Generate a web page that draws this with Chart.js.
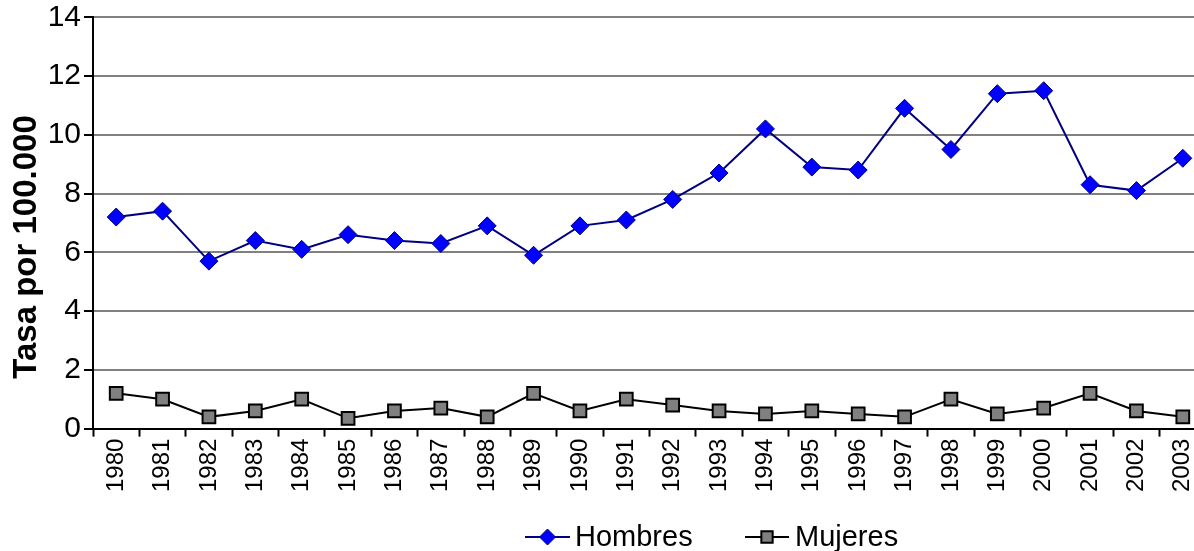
<!DOCTYPE html>
<html>
<head>
<meta charset="utf-8">
<script src="https://cdn.jsdelivr.net/npm/chart.js@4.4.1/dist/chart.umd.min.js"></script>
<style>
  html, body { margin: 0; padding: 0; background: #fff; overflow: hidden; }
  #wrap { width: 1217px; height: 551px; }
</style>
</head>
<body>
<div id="wrap"><canvas id="chart"></canvas></div>
<script>
/* --------------- Data --------------------- */
const years = ["1980", "1981", "1982", "1983", "1984", "1985", "1986", "1987", "1988", "1989",
    "1990", "1991", "1992", "1993", "1994", "1995", "1996", "1997", "1998", "1999",
    "2000", "2001", "2002", "2003"];
const hombres = [7.2, 7.4, 5.7, 6.4, 6.1, 6.6, 6.4, 6.3, 6.9, 5.9,
    6.9, 7.1, 7.8, 8.7, 10.2, 8.9, 8.8, 10.9, 9.5, 11.4,
    11.5, 8.3, 8.1, 9.2];
const mujeres = [1.2, 1.0, 0.4, 0.6, 1.0, 0.35, 0.6, 0.7, 0.4, 1.2,
    0.6, 1.0, 0.8, 0.6, 0.5, 0.6, 0.5, 0.4, 1.0, 0.5,
    0.7, 1.2, 0.6, 0.4];
const yTicks = [0, 2, 4, 6, 8, 10, 12, 14];
const yTitle = "Tasa por 100.000";

const fontFamily = "'Liberation Sans', Arial, sans-serif";

/* --------------- Axis title + legend drawn like the spreadsheet ones --------------------- */
const sheetDecor = {
    id: "sheetDecor",
    afterDraw(chart) {
        const ctx = chart.ctx;

        // y axis title, sits a bit below the plot centre as in the original
        ctx.save();
        ctx.translate(27, 247);
        ctx.rotate(-Math.PI / 2);
        ctx.fillStyle = "#000";
        ctx.font = "bold 33px " + fontFamily;
        ctx.textAlign = "center";
        ctx.textBaseline = "middle";
        ctx.fillText(yTitle, 0, 0);
        ctx.restore();

        // legend: line + marker + name
        const y = 537;
        const spots = [{ x0: 525, x1: 570, text: 575 }, { x0: 745, x1: 789, text: 795 }];
        chart.data.datasets.forEach((ds, i) => {
            const s = spots[i];
            ctx.save();
            ctx.strokeStyle = ds.borderColor;
            ctx.lineWidth = 2;
            ctx.beginPath();
            ctx.moveTo(s.x0, y);
            ctx.lineTo(s.x1, y);
            ctx.stroke();
            ctx.fillStyle = ds.pointBackgroundColor;
            ctx.strokeStyle = ds.pointBorderColor;
            ctx.lineWidth = ds.pointBorderWidth;
            Chart.helpers.drawPoint(ctx, {
                pointStyle: ds.pointStyle,
                radius: ds.pointRadius - 1,
                rotation: 0,
                borderWidth: ds.pointBorderWidth
            }, (s.x0 + s.x1) / 2, y);
            ctx.fillStyle = "#000";
            ctx.font = "29px " + fontFamily;
            ctx.textBaseline = "middle";
            ctx.textAlign = "left";
            ctx.fillText(ds.label, s.text, y + 1);
            ctx.restore();
        });
    }
};

/* --------------- Chart --------------------- */
new Chart(document.getElementById("chart"), {
    type: "line",
    plugins: [sheetDecor],
    data: {
        labels: years,
        datasets: [
            {
                label: "Hombres",
                data: hombres,
                borderColor: "#000080",
                borderWidth: 2,
                pointStyle: "rectRot",
                pointRadius: 9,
                pointBackgroundColor: "#0000ff",
                pointBorderColor: "#000080",
                pointBorderWidth: 1,
                tension: 0
            },
            {
                label: "Mujeres",
                data: mujeres,
                borderColor: "#000000",
                borderWidth: 2,
                pointStyle: "rect",
                pointRadius: 9,
                pointBackgroundColor: "#808080",
                pointBorderColor: "#000000",
                pointBorderWidth: 2,
                tension: 0
            }
        ]
    },
    options: {
        responsive: true,
        maintainAspectRatio: false,
        animation: false,
        layout: { padding: { left: 0, right: 2, top: 0, bottom: 57 } },
        plugins: {
            legend: { display: false },
            tooltip: { enabled: false }
        },
        scales: {
            x: {
                offset: true,
                grid: {
                    offset: true,
                    drawOnChartArea: false,
                    drawTicks: true,
                    tickLength: 8,
                    tickColor: "#000",
                    tickWidth: 2
                },
                border: { display: true, color: "#000", width: 2 },
                ticks: {
                    autoSkip: false,
                    minRotation: 90,
                    maxRotation: 90,
                    padding: 2,
                    color: "#000",
                    font: { family: fontFamily, size: 24 }
                }
            },
            y: {
                min: 0,
                max: 14,
                afterBuildTicks: (scale) => {
                    scale.ticks = yTicks.map(v => ({ value: v }));
                },
                afterFit: (scale) => { scale.width = 93; },
                grid: {
                    color: "#808080",
                    lineWidth: 2,
                    drawTicks: true,
                    tickLength: 9,
                    tickColor: "#000",
                    tickWidth: 2
                },
                border: { display: true, color: "#000", width: 2 },
                ticks: {
                    padding: 3,
                    color: "#000",
                    font: { family: fontFamily, size: 30, lineHeight: 0.95 }
                }
            }
        }
    }
});
</script>
</body>
</html>
